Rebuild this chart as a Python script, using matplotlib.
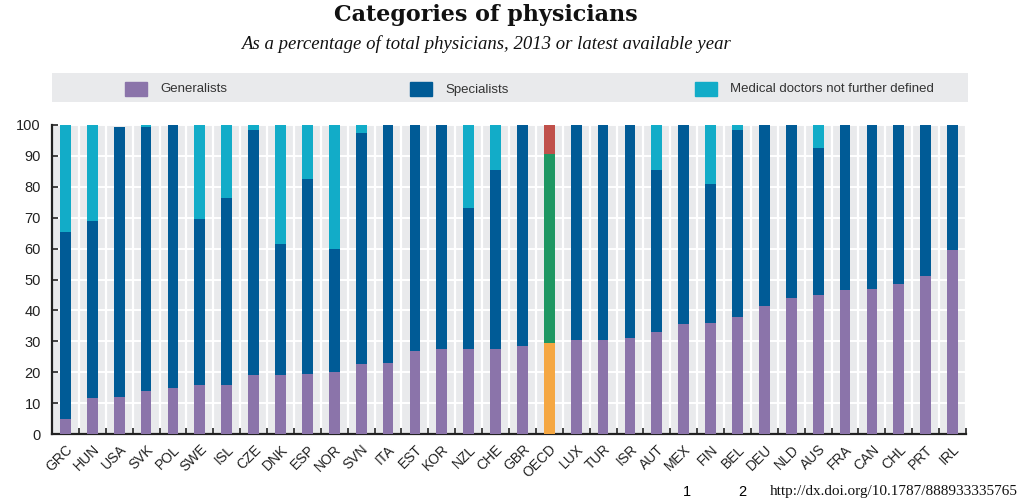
import matplotlib

matplotlib.use("Agg")
import matplotlib.pyplot as plt
import numpy as np
from matplotlib.patches import Rectangle

# --- данные ---
countries = ["GRC", "HUN", "USA", "SVK", "POL", "SWE", "ISL", "CZE", "DNK", "ESP",
             "NOR", "SVN", "ITA", "EST", "KOR", "NZL", "CHE", "GBR", "OECD", "LUX",
             "TUR", "ISR", "AUT", "MEX", "FIN", "BEL", "DEU", "NLD", "AUS", "FRA",
             "CAN", "CHL", "PRT", "IRL"]
generalists = [5.0, 11.5, 12.0, 14.0, 15.0, 16.0, 16.0, 19.0, 19.0, 19.5,
               20.0, 22.5, 23.0, 27.0, 27.5, 27.5, 27.5, 28.5, 29.5, 30.5,
               30.5, 31.0, 33.0, 35.5, 36.0, 38.0, 41.5, 44.0, 45.0, 46.5,
               47.0, 48.5, 51.0, 59.5]
specialists = [60.5, 57.5, 87.5, 85.5, 85.0, 53.5, 60.5, 79.5, 42.5, 63.0,
               40.0, 75.0, 77.0, 73.0, 72.5, 45.5, 58.0, 71.5, 61.0, 69.5,
               69.5, 69.0, 52.5, 64.5, 45.0, 60.5, 58.5, 56.0, 47.5, 53.5,
               53.0, 51.5, 49.0, 40.5]
not_defined = [34.5, 31.0, 0.0, 0.5, 0.0, 30.5, 23.5, 1.5, 38.5, 17.5,
               40.0, 2.5, 0.0, 0.0, 0.0, 27.0, 14.5, 0.0, 9.5, 0.0,
               0.0, 0.0, 14.5, 0.0, 19.0, 1.5, 0.0, 0.0, 7.5, 0.0,
               0.0, 0.0, 0.0, 0.0]
series_names = ["Generalists", "Specialists", "Medical doctors not further defined"]
yticks = [0, 10, 20, 30, 40, 50, 60, 70, 80, 90, 100]

colors = ["#8b74aa", "#005b96", "#12acc8"]
oecd_colors = ["#f5a742", "#1e9762", "#c0504a"]
BG = "#e9eaec"
SANS = ["Liberation Sans", "DejaVu Sans"]

fig = plt.figure(figsize=(10.24, 5.04), dpi=100)
ax = fig.add_axes([52 / 1024, 1 - 434 / 504, 914 / 1024, 309 / 504])
ax.set_facecolor(BG)

x = np.arange(len(countries))
gen = np.array(generalists)
spe = np.array(specialists)
ndf = np.array(not_defined)
is_oecd = np.array([c == "OECD" for c in countries])

bar_cols = [[oecd_colors[k] if o else colors[k] for o in is_oecd] for k in range(3)]
w = 0.4
ax.bar(x, gen, w, color=bar_cols[0], zorder=3)
ax.bar(x, spe, w, bottom=gen, color=bar_cols[1], zorder=3)
ax.bar(x, ndf, w, bottom=gen + spe, color=bar_cols[2], zorder=3)

ax.set_xlim(-0.5, len(countries) - 0.5)
ax.set_ylim(0, 100)
ax.set_yticks(yticks)
ax.set_yticklabels([str(v) for v in yticks], fontsize=10.5, color="#222222",
                   family=SANS)
ax.set_xticks(x)
ax.set_xticklabels(countries, rotation=45, ha="right", rotation_mode="anchor",
                   fontsize=10, color="#222222", family=SANS)
ax.tick_params(axis="x", which="major", length=0, pad=6)
ax.set_xticks(np.arange(len(countries) + 1) - 0.5, minor=True)
ax.tick_params(axis="x", which="minor", direction="in", length=4, width=1.2,
               color="#222222")
ax.tick_params(axis="y", direction="in", length=4, width=1.2, color="#222222", pad=8)

ax.grid(axis="y", color="white", lw=1.4, zorder=1)
ax.grid(axis="x", which="minor", color="white", lw=1.6, zorder=1)
for s in ("top", "right"):
    ax.spines[s].set_visible(False)
for s in ("left", "bottom"):
    ax.spines[s].set_color("#222222")
    ax.spines[s].set_linewidth(1.6)

# легенда в сером поле
lax = fig.add_axes([52 / 1024, 1 - 102 / 504, 916 / 1024, 29 / 504])
lax.set_facecolor(BG)
lax.set_xlim(0, 916)
lax.set_ylim(0, 29)
lax.set_xticks([])
lax.set_yticks([])
for s in lax.spines.values():
    s.set_visible(False)
for k, name in enumerate(series_names):
    x0 = 73 + k * 285
    lax.add_patch(Rectangle((x0, 6), 22, 14, color=colors[k]))
    lax.text(x0 + 35, 12.5, name, va="center", ha="left", fontsize=9.5,
             color="#333333", family=SANS)

fig.text(486 / 1024, 1 - 15 / 504, "Categories of physicians", ha="center",
         va="center", fontsize=16, fontweight="bold", family="DejaVu Serif",
         color="#111111")
fig.text(486 / 1024, 1 - 44 / 504,
         "As a percentage of total physicians, 2013 or latest available year",
         ha="center", va="center", fontsize=13.5, style="italic",
         family="Liberation Serif", color="#111111")

fig.text(687 / 1024, 1 - 492 / 504, "1", ha="center", va="center", fontsize=10.5,
         family=SANS)
fig.text(742 / 1024, 1 - 492 / 504, "2", ha="center", va="center", fontsize=10.5,
         family=SANS)
fig.text(770 / 1024, 1 - 492 / 504, "http://dx.doi.org/10.1787/888933335765",
         ha="left", va="center", fontsize=11, family="Liberation Serif",
         color="#111111")

fig.savefig("out.png", dpi=100, facecolor="white")
